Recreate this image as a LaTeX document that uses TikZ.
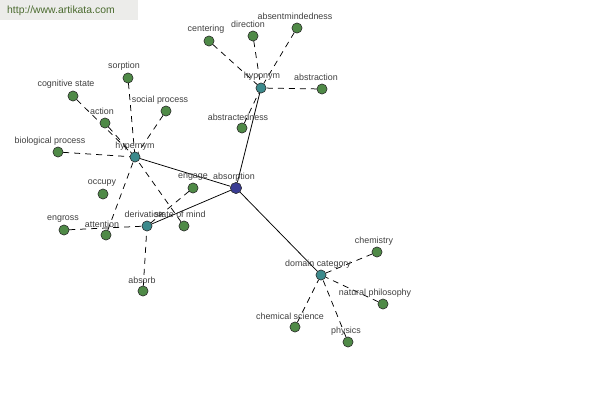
\documentclass[tikz,border=0pt]{standalone}
\usepackage{fontspec}
\setmainfont{Liberation Sans}
\begin{document}
\begin{tikzpicture}[x=1pt,y=-1pt,
  leaf/.style={circle,draw=black!80,fill=leafgreen,minimum size=10pt,inner sep=0pt,line width=0.5pt},
  hub/.style={circle,draw=black!80,fill=hubteal,minimum size=10pt,inner sep=0pt,line width=0.5pt},
  center/.style={circle,draw=black!80,fill=centerblue,minimum size=11pt,inner sep=0pt,line width=0.5pt},
  lbl/.style={font=\fontsize{8.9}{10}\selectfont,text=black!75,inner sep=0pt},
  rel/.style={dash pattern=on 6pt off 5pt,line width=0.75pt},
  main/.style={line width=0.75pt}]
\definecolor{leafgreen}{HTML}{4F8A47}
\definecolor{hubteal}{HTML}{3C8A8C}
\definecolor{centerblue}{HTML}{3A3C94}
\definecolor{hdrgray}{HTML}{ECECEA}
\definecolor{hdrtext}{HTML}{4A6A2E}
\useasboundingbox (0,0) rectangle (600,400);
\fill[white] (0,0) rectangle (600,400);
\fill[hdrgray] (0,0) rectangle (138,20);
\node[anchor=west,inner sep=0pt,text=hdrtext,font=\fontsize{10.4}{12}\selectfont] (hdr) at (7,11) {http://www.artikata.com};
% hubs
\node[center] (abs) at (236,188) {};
\node[hub] (hypo) at (261,88) {};
\node[hub] (hyper) at (135,157) {};
\node[hub] (deriv) at (147,226) {};
\node[hub] (dom) at (321,275) {};
% hyponyms
\node[leaf] (centering) at (209,41) {};
\node[leaf] (direction) at (253,36) {};
\node[leaf] (absent) at (297,28) {};
\node[leaf] (abstraction) at (322,89) {};
\node[leaf] (abstractedness) at (242,128) {};
% hypernyms
\node[leaf] (sorption) at (128,78) {};
\node[leaf] (cognitive) at (73,96) {};
\node[leaf] (social) at (166,111) {};
\node[leaf] (action) at (105,123) {};
\node[leaf] (bio) at (58,152) {};
\node[leaf] (stateofmind) at (184,226) {};
\node[leaf] (attention) at (106,235) {};
% derivations
\node[leaf] (occupy) at (103,194) {};
\node[leaf] (engross) at (64,230) {};
\node[leaf] (absorb) at (143,291) {};
\node[leaf] (engage) at (193,188) {};
% domain
\node[leaf] (chemistry) at (377,252) {};
\node[leaf] (natphil) at (383,304) {};
\node[leaf] (chemsci) at (295,327) {};
\node[leaf] (physics) at (348,342) {};
% edges
\draw[main] (abs) -- (hypo);
\draw[main] (abs) -- (hyper);
\draw[main] (abs) -- (deriv);
\draw[main] (abs) -- (dom);
\foreach \n in {centering,direction,absent,abstraction,abstractedness}
  \draw[rel] (\n) -- (hypo);
\foreach \n in {sorption,cognitive,social,action,bio,stateofmind,attention}
  \draw[rel] (\n) -- (hyper);
\foreach \n in {engross,absorb,engage}
  \draw[rel] (\n) -- (deriv);
\foreach \n in {chemistry,natphil,chemsci,physics}
  \draw[rel] (\n) -- (dom);
% redraw nodes on top
\foreach \n/\s in {abs/center,hypo/hub,hyper/hub,deriv/hub,dom/hub}
  \node[\s] at (\n) {};
\foreach \n in {centering,direction,absent,abstraction,abstractedness,sorption,cognitive,social,action,bio,stateofmind,attention,occupy,engross,absorb,engage,chemistry,natphil,chemsci,physics}
  \node[leaf] at (\n) {};
% labels
\node[lbl] (l1) at (234,177) {absorption};
\node[lbl] (l2) at (262,76) {hyponym};
\node[lbl] (l3) at (135,146) {hypernym};
\node[lbl] (l4) at (144,214) {derivation};
\node[lbl] (l5) at (318,264) {domain category};
\node[lbl] (l6) at (206,29) {centering};
\node[lbl] (l7) at (248,24) {direction};
\node[lbl] (l8) at (295,16) {absentmindedness};
\node[lbl] (l9) at (316,77) {abstraction};
\node[lbl] (l10) at (238,117) {abstractedness};
\node[lbl] (l11) at (124,66) {sorption};
\node[lbl] (l12) at (66,84) {cognitive state};
\node[lbl] (l13) at (160,100) {social process};
\node[lbl] (l14) at (102,111) {action};
\node[lbl] (l15) at (50,141) {biological process};
\node[lbl] (l16) at (180,214) {state of mind};
\node[lbl] (l17) at (102,224) {attention};
\node[lbl] (l18) at (102,183) {occupy};
\node[lbl] (l19) at (63,219) {engross};
\node[lbl] (l20) at (142,280) {absorb};
\node[lbl] (l21) at (193,177) {engage};
\node[lbl] (l22) at (374,241) {chemistry};
\node[lbl] (l23) at (375,293) {natural philosophy};
\node[lbl] (l24) at (290,316) {chemical science};
\node[lbl] (l25) at (346,331) {physics};
\end{tikzpicture}
\end{document}
